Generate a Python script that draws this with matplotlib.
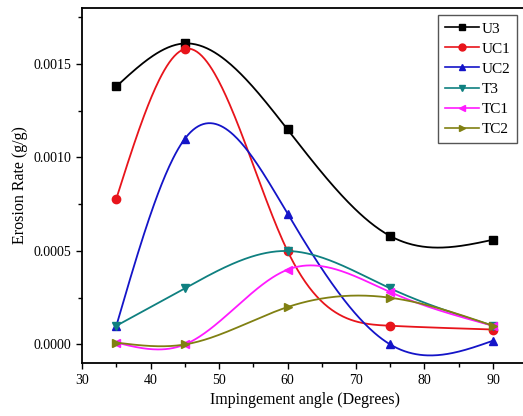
import numpy as np
import matplotlib
matplotlib.use("Agg")
import matplotlib.pyplot as plt
from matplotlib.ticker import MultipleLocator

angles = [35, 45, 60, 75, 90]
u3 = [0.00138, 0.00161, 0.00115, 0.00058, 0.00056]
uc1 = [0.00078, 0.00158, 0.00050, 0.00010, 0.00008]
uc2 = [0.00010, 0.00110, 0.00070, 0.00000, 0.00002]
t3 = [0.00010, 0.00030, 0.00050, 0.00030, 0.00010]
tc1 = [0.00001, 0.00000, 0.00040, 0.00028, 0.00010]
tc2 = [0.00001, 0.00000, 0.00020, 0.00025, 0.00010]

labels = ['U3', 'UC1', 'UC2', 'T3', 'TC1', 'TC2']
series = [u3, uc1, uc2, t3, tc1, tc2]
colors = ['black', '#e8141b', '#1414c8', '#0f8080', '#ff1aff', '#808012']
markers = ['s', 'o', '^', 'v', '<', '>']


def natural_spline(x, y, xs):
    # spline cubico natural, sin scipy
    x = np.asarray(x, float)
    y = np.asarray(y, float)
    n = len(x)
    h = np.diff(x)
    A = np.zeros((n, n))
    b = np.zeros(n)
    A[0, 0] = 1
    A[-1, -1] = 1
    for i in range(1, n - 1):
        A[i, i - 1] = h[i - 1]
        A[i, i] = 2 * (h[i - 1] + h[i])
        A[i, i + 1] = h[i]
        b[i] = 6 * ((y[i + 1] - y[i]) / h[i] - (y[i] - y[i - 1]) / h[i - 1])
    m = np.linalg.solve(A, b)
    out = np.empty_like(xs)
    for k, xv in enumerate(xs):
        i = min(np.searchsorted(x, xv) - 1, n - 2)
        i = max(i, 0)
        t0 = x[i + 1] - xv
        t1 = xv - x[i]
        out[k] = (m[i] * t0 ** 3 + m[i + 1] * t1 ** 3) / (6 * h[i]) \
            + (y[i] / h[i] - m[i] * h[i] / 6) * t0 \
            + (y[i + 1] / h[i] - m[i + 1] * h[i] / 6) * t1
    return out


plt.rcParams['font.family'] = ['Liberation Serif', 'DejaVu Serif']

fig = plt.figure(figsize=(5.23, 4.16), dpi=100)
ax = fig.add_axes([0.157, 0.127, 0.851, 0.854])

xs = np.linspace(35, 90, 300)
for lab, ys, c, mk in zip(labels, series, colors, markers):
    ax.plot(xs, natural_spline(angles, ys, xs), color=c, lw=1.3)
    ax.plot(angles, ys, linestyle='none', marker=mk, color=c, markersize=6)
    ax.plot([], [], color=c, lw=1.2, marker=mk, markersize=5, label=lab)

ax.set_xlim(30, 95)
ax.set_ylim(-0.0001, 0.0018)
ax.xaxis.set_major_locator(MultipleLocator(10))
ax.xaxis.set_minor_locator(MultipleLocator(5))
ax.yaxis.set_major_locator(MultipleLocator(0.0005))
ax.yaxis.set_minor_locator(MultipleLocator(0.00025))
ax.yaxis.set_major_formatter(matplotlib.ticker.FormatStrFormatter('%.4f'))
ax.tick_params(direction='out', labelsize=10, length=4, width=1)
ax.tick_params(which='minor', direction='out', length=3, width=1)
for s in ax.spines.values():
    s.set_linewidth(1.3)
ax.spines['right'].set_visible(False)

ax.set_xlabel('Impingement angle (Degrees)', fontsize=11.5)
ax.set_ylabel('Erosion Rate (g/g)', fontsize=11.5)

fig.legend(loc='upper right', bbox_to_anchor=(0.989, 0.964), borderaxespad=0,
           fontsize=11, fancybox=False, edgecolor='#555555', framealpha=1,
           handlelength=2.2, labelspacing=0.42, borderpad=0.45, handletextpad=0.2)

fig.savefig('out.png', dpi=100)
